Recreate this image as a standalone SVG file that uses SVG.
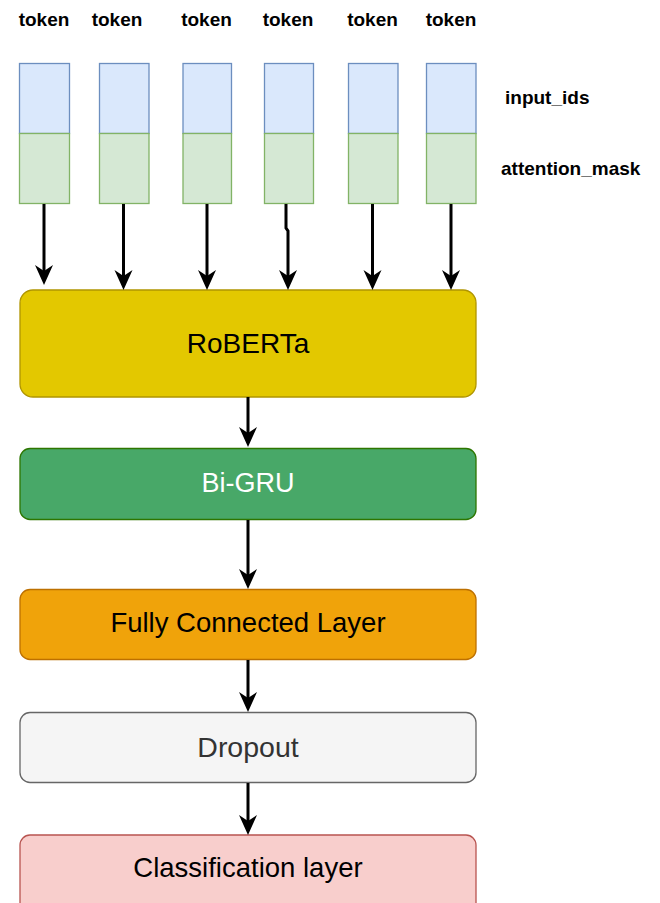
<svg xmlns="http://www.w3.org/2000/svg" width="660" height="903" viewBox="0 0 660 903">
<style>
.lbl{font-family:"Liberation Sans",Arial,sans-serif;font-weight:bold;font-size:19px;fill:#000}
.tok{text-anchor:middle}
.box{stroke-width:1.3}
.ttl{font-family:"Liberation Sans",Arial,sans-serif;text-anchor:middle}
.blue{fill:#dae8fc;stroke:#6c8ebf;stroke-width:1.3}
.green{fill:#d5e8d4;stroke:#82b366;stroke-width:1.3}
.conn{fill:none;stroke:#000;stroke-width:3}
</style>
<defs>
<marker id="arr" viewBox="0 0 20 20" markerUnits="userSpaceOnUse" markerWidth="20" markerHeight="20" refX="6" refY="10" orient="auto">
<path d="M0,1 L20,10 L0,19 L6,10 Z" fill="#000"/>
</marker>
</defs>
<rect width="660" height="903" fill="#fff"/>
<g id="tokens">
<g id="tok1"><text class="lbl tok" x="44" y="26">token</text><rect class="blue" x="19.5" y="63.5" width="50" height="70"/><rect class="green" x="19.5" y="133.5" width="50" height="70"/></g>
<g id="tok2"><text class="lbl tok" x="117" y="26">token</text><rect class="blue" x="99.5" y="63.5" width="49.5" height="70"/><rect class="green" x="99.5" y="133.5" width="49.5" height="70"/></g>
<g id="tok3"><text class="lbl tok" x="206.5" y="26">token</text><rect class="blue" x="183" y="63.5" width="48.5" height="70"/><rect class="green" x="183" y="133.5" width="48.5" height="70"/></g>
<g id="tok4"><text class="lbl tok" x="288" y="26">token</text><rect class="blue" x="264.5" y="63.5" width="49" height="70"/><rect class="green" x="264.5" y="133.5" width="49" height="70"/></g>
<g id="tok5"><text class="lbl tok" x="372.5" y="26">token</text><rect class="blue" x="348.5" y="63.5" width="49.5" height="70"/><rect class="green" x="348.5" y="133.5" width="49.5" height="70"/></g>
<g id="tok6"><text class="lbl tok" x="451" y="26">token</text><rect class="blue" x="426.5" y="63.5" width="49.5" height="70"/><rect class="green" x="426.5" y="133.5" width="49.5" height="70"/></g>
</g>
<g id="label-input-ids"><text class="lbl" x="505" y="104">input_ids</text></g>
<g id="label-attention-mask"><text class="lbl" x="501" y="175">attention_mask</text></g>
<g id="roberta"><rect class="box" x="20" y="290" width="456" height="107" rx="13" fill="#e3c800" stroke="#b09500"/><text class="ttl" x="248" y="353" font-size="28" fill="#000">RoBERTa</text></g>
<g id="bigru"><rect class="box" x="20" y="448.5" width="456" height="71" rx="10" fill="#48a868" stroke="#2d7600"/><text class="ttl" x="248" y="492" font-size="27" fill="#fff">Bi-GRU</text></g>
<g id="fc"><rect class="box" x="20" y="589.5" width="456" height="70" rx="10" fill="#f0a30a" stroke="#bd7000"/><text class="ttl" x="248" y="632" font-size="27.5" fill="#000">Fully Connected Layer</text></g>
<g id="dropout"><rect class="box" x="20" y="712.5" width="456" height="70" rx="10" fill="#f5f5f5" stroke="#666666"/><text class="ttl" x="248" y="757" font-size="28.5" fill="#333333">Dropout</text></g>
<g id="classification"><rect class="box" x="20" y="835" width="456" height="80" rx="10" fill="#f8cecc" stroke="#b85450"/><text class="ttl" x="248" y="877" font-size="27.5" fill="#000">Classification layer</text></g>
<g id="connectors">
<polyline class="conn" points="44,204 44,271" marker-end="url(#arr)"/>
<polyline class="conn" points="123.5,204 123.5,276" marker-end="url(#arr)"/>
<polyline class="conn" points="207,204 207,276" marker-end="url(#arr)"/>
<polyline class="conn" points="286,204 286,228 288,231 288,276" marker-end="url(#arr)"/>
<polyline class="conn" points="372.5,204 372.5,276" marker-end="url(#arr)"/>
<polyline class="conn" points="451,204 451,276" marker-end="url(#arr)"/>
<polyline class="conn" points="248,397 248,433" marker-end="url(#arr)"/>
<polyline class="conn" points="248,520 248,575" marker-end="url(#arr)"/>
<polyline class="conn" points="248,660 248,698" marker-end="url(#arr)"/>
<polyline class="conn" points="248,783 248,821" marker-end="url(#arr)"/>
</g>
</svg>
